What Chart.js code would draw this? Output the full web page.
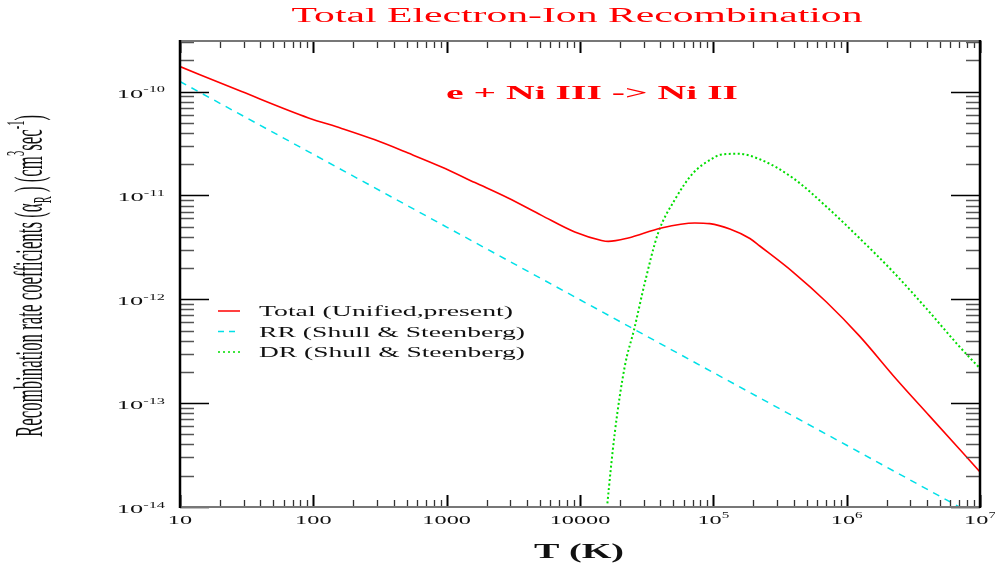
<!DOCTYPE html>
<html>
<head>
<meta charset="utf-8">
<title>Total Electron-Ion Recombination</title>
<script src="https://cdn.jsdelivr.net/npm/chart.js@4.4.1/dist/chart.umd.min.js"></script>
<style>
  html, body { margin: 0; padding: 0; background: #fff; }
  canvas { display: block; }
</style>
</head>
<body>
<canvas id="chartOne" width="995" height="563"></canvas>
<script>
// values: T in K, rates in cm^3 sec^-1
var totalTemp = [10, 29, 92, 163, 290, 514, 916, 1630, 2890, 5150, 9140, 14500, 16300, 23000, 40800, 72600, 94000, 133000, 188000, 223000, 396000, 705000, 1250000, 2360000, 4190000, 10000000];
var totalRate = [1.74e-10, 1.0e-10, 5.58e-11, 4.42e-11, 3.43e-11, 2.56e-11, 1.88e-11, 1.33e-11, 9.44e-12, 6.43e-12, 4.45e-12, 3.69e-12, 3.61e-12, 3.89e-12, 4.86e-12, 5.43e-12, 5.35e-12, 4.75e-12, 3.85e-12, 3.26e-12, 1.83e-12, 9.42e-13, 4.42e-13, 1.70e-13, 7.5e-14, 2.18e-14];

var rrTemp = [10, 100, 1000, 10000, 100000, 1000000, 10000000];
var rrRate = [1.25e-10, 2.49e-11, 4.96e-12, 9.9e-13, 1.97e-13, 3.93e-14, 7.8e-15];

var drTemp = [15000, 15960, 18240, 21680, 25460, 30620, 38550, 51400, 70500, 99600, 112000, 153000, 223000, 396000, 705000, 1250000, 2220000, 3950000, 7030000, 10000000];
var drRate = [4e-15, 1e-14, 5.19e-14, 2.27e-13, 5.12e-13, 1.44e-12, 4.35e-12, 9.09e-12, 1.64e-11, 2.29e-11, 2.46e-11, 2.52e-11, 2.23e-11, 1.47e-11, 7.8e-12, 3.87e-12, 1.85e-12, 8.19e-13, 3.49e-13, 2.16e-13];

var xTickValues = [10, 100, 1000, 10000, 1e5, 1e6, 1e7];
var xTickLabels = [['10'], ['100'], ['1000'], ['10000'], ['10', '5'], ['10', '6'], ['10', '7']];
var yTickValues = [1e-10, 1e-11, 1e-12, 1e-13, 1e-14];
var yTickExps = ['-10', '-11', '-12', '-13', '-14'];
var seriesLabels = ['Total (Unified,present)', 'RR (Shull & Steenberg)', 'DR (Shull & Steenberg)'];

var SERIF = '"Liberation Serif", "DejaVu Serif", serif';

const toPoints = (xs, ys) => xs.map((t, i) => ({ x: t, y: ys[i] }));

// parts: [[text, shift]]  shift 1 = superscript, -1 = subscript
const partsWidth = (ctx, parts, size, weight) => {
    var w = 0;
    parts.forEach((p) => {
        ctx.font = weight + ' ' + (p[1] ? size * 0.62 : size) + 'px ' + SERIF;
        w += ctx.measureText(p[0]).width;
    });
    return w;
}

const drawParts = (ctx, parts, o) => {
    var w = partsWidth(ctx, parts, o.size, o.weight);
    var sx = o.width ? o.width / w : o.sx;
    ctx.save();
    ctx.translate(o.x, o.y);
    if (o.rot) ctx.rotate(o.rot);
    ctx.scale(sx, o.sy || 1);
    ctx.fillStyle = o.color || '#000';
    ctx.textBaseline = 'alphabetic';
    ctx.textAlign = 'left';
    var cx = o.align == 'center' ? -w / 2 : (o.align == 'right' ? -w : 0);
    parts.forEach((p) => {
        var s = p[1] ? o.size * 0.62 : o.size;
        ctx.font = o.weight + ' ' + s + 'px ' + SERIF;
        var dy = p[1] == 1 ? -o.size * 0.45 : (p[1] == -1 ? o.size * 0.22 : 0);
        ctx.fillText(p[0], cx, dy);
        cx += ctx.measureText(p[0]).width;
    });
    ctx.restore();
}

const frameAndText = {
    id: 'frameAndText',
    afterDraw(chart) {
        const ctx = chart.ctx;
        const a = chart.chartArea;
        const xs = chart.scales.x;
        const ys = chart.scales.y;

        // minor / major ticks, pointing inward on all four sides
        ctx.save();
        for (var d = 10; d <= 1e7; d *= 10) {
            for (var m = 1; m <= 9; m++) {
                var v = d * m;
                if (v > 1e7 * 1.0001) break;
                var px = Math.round(xs.getPixelForValue(v)) + 0.5;
                var major = m == 1;
                ctx.strokeStyle = major ? '#000' : '#333';
                ctx.lineWidth = major ? 2 : 1.3;
                var len = major ? 12 : 7;
                ctx.beginPath();
                ctx.moveTo(px, a.bottom); ctx.lineTo(px, a.bottom - len);
                ctx.moveTo(px, a.top); ctx.lineTo(px, a.top + len);
                ctx.stroke();
            }
        }
        for (var e = -14; e <= -10; e++) {
            for (var m = 1; m <= 9; m++) {
                var v = m * Math.pow(10, e);
                if (v > ys.max) break;
                var py = Math.round(ys.getPixelForValue(v)) + 0.5;
                var major = m == 1;
                ctx.strokeStyle = major ? '#000' : '#555';
                ctx.lineWidth = 1.5;
                var len = major ? 29 : 14;
                ctx.beginPath();
                ctx.moveTo(a.left, py); ctx.lineTo(a.left + len, py);
                ctx.moveTo(a.right, py); ctx.lineTo(a.right - len, py);
                ctx.stroke();
            }
        }
        // frame
        ctx.lineWidth = 2;
        ctx.strokeStyle = '#777';
        ctx.beginPath();
        ctx.moveTo(a.left, a.top); ctx.lineTo(a.right, a.top);
        ctx.moveTo(a.left, a.bottom); ctx.lineTo(a.right, a.bottom);
        ctx.stroke();
        ctx.strokeStyle = '#000';
        ctx.lineWidth = 2.5;
        ctx.beginPath();
        ctx.moveTo(a.left, a.top - 1); ctx.lineTo(a.left, a.bottom + 1);
        ctx.moveTo(a.right, a.top - 1); ctx.lineTo(a.right, a.bottom + 1);
        ctx.stroke();
        ctx.restore();

        // tick labels
        xTickValues.forEach((v, i) => {
            var lab = xTickLabels[i];
            var parts = lab.length > 1 ? [[lab[0], 0], [lab[1], 1]] : [[lab[0], 0]];
            drawParts(ctx, parts, { x: xs.getPixelForValue(v), y: 524, size: 13.5, weight: 'normal', sx: 1.8, align: 'center', color: '#111' });
        });
        yTickValues.forEach((v, i) => {
            drawParts(ctx, [['10', 0], [yTickExps[i], 1]], { x: 165, y: ys.getPixelForValue(v) + 6, size: 12, weight: 'normal', sx: 2.2, align: 'right', color: '#111' });
        });

        // titles
        drawParts(ctx, [['Total Electron-Ion Recombination', 0]], { x: 577, y: 22, size: 20, weight: 'normal', width: 571, align: 'center', color: '#ff0000' });
        drawParts(ctx, [['e + Ni III -> Ni II', 0]], { x: 592, y: 99, size: 19, weight: 'bold', width: 292, align: 'center', color: '#ff0000' });
        drawParts(ctx, [['T (K)', 0]], { x: 579, y: 558, size: 20, weight: 'bold', width: 90, align: 'center', color: '#111' });
        drawParts(ctx, [['Recombination rate coefficients (\u03b1', 0], ['R', -1], [' ) (cm', 0], ['3', 1], ['sec', 0], ['-1', 1], [')', 0]],
            { x: 42, y: 276, rot: -Math.PI / 2, size: 20, weight: 'normal', width: 322, sy: 2.0, align: 'center', color: '#111' });

        // legend
        var rows = [311, 331.5, 352];
        chart.data.datasets.forEach((ds, i) => {
            ctx.save();
            ctx.strokeStyle = ds.borderColor;
            ctx.lineWidth = 1.5;
            ctx.setLineDash(i == 0 ? [] : (i == 1 ? [6, 5] : [2, 3]));
            ctx.beginPath();
            ctx.moveTo(218, rows[i]); ctx.lineTo(240, rows[i]);
            ctx.stroke();
            ctx.restore();
            drawParts(ctx, [[seriesLabels[i], 0]], { x: 259, y: rows[i] + 5, size: 14, weight: 'normal', width: i == 0 ? 254 : 266, align: 'left', color: '#111' });
        });
    }
};

var myChart = new Chart(document.getElementById('chartOne'), {
    type: 'line',
    data: {
        datasets: [{
            label: seriesLabels[0],
            data: toPoints(totalTemp, totalRate),
            borderColor: '#ff0000',
            borderWidth: 1.6,
            pointRadius: 0,
            cubicInterpolationMode: 'monotone'
        }, {
            label: seriesLabels[1],
            data: toPoints(rrTemp, rrRate),
            borderColor: '#00e0e8',
            borderWidth: 1.5,
            borderDash: [7, 6],
            pointRadius: 0
        }, {
            label: seriesLabels[2],
            data: toPoints(drTemp, drRate),
            borderColor: '#00dd00',
            borderWidth: 2,
            borderDash: [2, 2.5],
            pointRadius: 0,
            cubicInterpolationMode: 'monotone'
        }]
    },
    options: {
        responsive: false,
        animation: false,
        devicePixelRatio: 1,
        layout: { padding: { left: 180, right: 15, top: 41, bottom: 56 } },
        scales: {
            x: { type: 'logarithmic', min: 10, max: 1e7, display: false },
            y: { type: 'logarithmic', min: 1e-14, max: 3.07e-10, display: false }
        },
        plugins: {
            legend: { display: false },
            title: { display: false },
            tooltip: { enabled: false }
        }
    },
    plugins: [frameAndText]
});
</script>
</body>
</html>
